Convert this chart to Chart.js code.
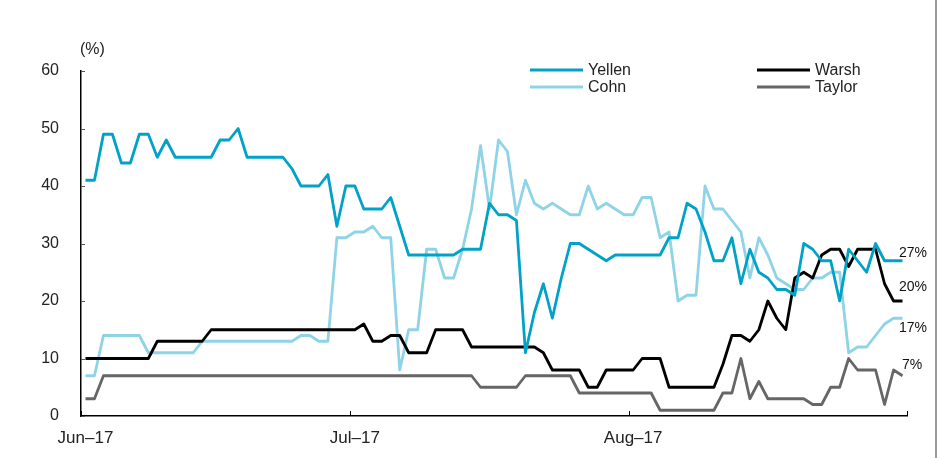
<!DOCTYPE html>
<html>
<head>
<meta charset="utf-8">
<script src="https://cdn.jsdelivr.net/npm/chart.js@4/dist/chart.umd.min.js"></script>
<style>
  html, body { margin: 0; padding: 0; background: #fff; }
  #wrap { width: 938px; height: 458px; position: relative; }
</style>
</head>
<body>
<div id="wrap"><canvas id="chart"></canvas></div>
<script>
// daily values, 1 Jun 2017 .. 31 Aug 2017 (%)
const monthStarts = [0, 30, 61];
const monthLabels = ["Jun\u201317", "Jul\u201317", "Aug\u201317"];
const dayCount = 92;

const yellen = [
  41, 41, 49, 49, 44, 44, 49, 49, 45, 48,
  45, 45, 45, 45, 45, 48, 48, 50, 45, 45,
  45, 45, 45, 43, 40, 40, 40, 42, 33, 40,
  40, 36, 36, 36, 38, 33, 28, 28, 28, 28,
  28, 28, 29, 29, 29, 37, 35, 35, 34, 11,
  18, 23, 17, 24, 30, 30, 29, 28, 27, 28,
  28, 28, 28, 28, 28, 31, 31, 37, 36, 32,
  27, 27, 31, 23, 29, 25, 24, 22, 22, 21,
  30, 29, 27, 27, 20, 29, 27, 25, 30, 27,
  27, 27,
];
const warsh = [
  10, 10, 10, 10, 10, 10, 10, 10, 13, 13,
  13, 13, 13, 13, 15, 15, 15, 15, 15, 15,
  15, 15, 15, 15, 15, 15, 15, 15, 15, 15,
  15, 16, 13, 13, 14, 14, 11, 11, 11, 15,
  15, 15, 15, 12, 12, 12, 12, 12, 12, 12,
  12, 11, 8, 8, 8, 8, 5, 5, 8, 8,
  8, 8, 10, 10, 10, 5, 5, 5, 5, 5,
  5, 9, 14, 14, 13, 15, 20, 17, 15, 24,
  25, 24, 28, 29, 29, 26, 29, 29, 29, 23,
  20, 20,
];
const cohn = [
  7, 7, 14, 14, 14, 14, 14, 11, 11, 11,
  11, 11, 11, 13, 13, 13, 13, 13, 13, 13,
  13, 13, 13, 13, 14, 14, 13, 13, 31, 31,
  32, 32, 33, 31, 31, 8, 15, 15, 29, 29,
  24, 24, 29, 36, 47, 36, 48, 46, 35, 41,
  37, 36, 37, 36, 35, 35, 40, 36, 37, 36,
  35, 35, 38, 38, 31, 32, 20, 21, 21, 40,
  36, 36, 34, 32, 24, 31, 28, 24, 23, 22,
  22, 24, 24, 25, 25, 11, 12, 12, 14, 16,
  17, 17,
];
const taylor = [
  3, 3, 7, 7, 7, 7, 7, 7, 7, 7,
  7, 7, 7, 7, 7, 7, 7, 7, 7, 7,
  7, 7, 7, 7, 7, 7, 7, 7, 7, 7,
  7, 7, 7, 7, 7, 7, 7, 7, 7, 7,
  7, 7, 7, 7, 5, 5, 5, 5, 5, 7,
  7, 7, 7, 7, 7, 4, 4, 4, 4, 4,
  4, 4, 4, 4, 1, 1, 1, 1, 1, 1,
  1, 4, 4, 10, 3, 6, 3, 3, 3, 3,
  3, 2, 2, 5, 5, 10, 8, 8, 8, 2,
  8, 7,
];
const yTicks = [0, 10, 20, 30, 40, 50, 60];

const FONT = "'Liberation Sans', Arial, sans-serif";
const TEXT = "#222";

// points sit in the middle of their day
const toPoints = arr => arr.map((v, i) => ({ x: i + 0.5, y: v }));

const series = [
  { label: "Yellen", data: yellen, color: "#00A2C8" },
  { label: "Warsh", data: warsh, color: "#000000" },
  { label: "Cohn", data: cohn, color: "#8ED4E6" },
  { label: "Taylor", data: taylor, color: "#666666" },
];

const extras = {
  id: "extras",
  afterDraw(chart) {
    const ctx = chart.ctx;
    const xs = chart.scales.x, ys = chart.scales.y;
    const area = chart.chartArea;
    ctx.save();

    // inward tick marks
    ctx.strokeStyle = "#000";
    ctx.lineWidth = 1;
    [...monthStarts, dayCount].forEach(d => {
      const px = Math.round(xs.getPixelForValue(d)) + 0.5;
      ctx.beginPath();
      ctx.moveTo(px, area.bottom);
      ctx.lineTo(px, area.bottom - 5);
      ctx.stroke();
    });
    ctx.strokeStyle = "#555";
    yTicks.forEach(v => {
      const py = Math.round(ys.getPixelForValue(v)) + 0.5;
      ctx.beginPath();
      ctx.moveTo(area.left, py);
      ctx.lineTo(area.left + 4, py);
      ctx.stroke();
    });

    // unit label
    ctx.fillStyle = TEXT;
    ctx.font = "16px " + FONT;
    ctx.textBaseline = "middle";
    ctx.textAlign = "left";
    ctx.fillText("(%)", 80, 50);

    // legend, two columns
    const cols = [[530, 0], [757, 1]];
    const rows = [70, 87];
    const order = [["Yellen", "Cohn"], ["Warsh", "Taylor"]];
    cols.forEach(([x0, c]) => {
      order[c].forEach((name, r) => {
        const s = series.find(s => s.label === name);
        ctx.strokeStyle = s.color;
        ctx.lineWidth = 3;
        ctx.beginPath();
        ctx.moveTo(x0, rows[r]);
        ctx.lineTo(x0 + 53, rows[r]);
        ctx.stroke();
        ctx.fillStyle = TEXT;
        ctx.fillText(name, x0 + 58, rows[r] + 1);
      });
    });

    // end-of-line values
    ctx.font = "14px " + FONT;
    ctx.fillStyle = "#111";
    ctx.textAlign = "center";
    const endOffsets = { Yellen: -8, Warsh: -14, Cohn: 10, Taylor: -11 };
    series.forEach(s => {
      const last = s.data[s.data.length - 1];
      const px = xs.getPixelForValue(dayCount) + 3;
      const py = ys.getPixelForValue(last) + endOffsets[s.label];
      ctx.fillText(last + "%", px + (s.label === "Taylor" ? 2 : 3), py);
    });

    // frame line on the right
    ctx.strokeStyle = "#9a9a9a";
    ctx.lineWidth = 2;
    ctx.beginPath();
    ctx.moveTo(936, 0);
    ctx.lineTo(936, 458);
    ctx.stroke();

    ctx.restore();
  },
};

new Chart(document.getElementById("chart"), {
  type: "line",
  data: {
    datasets: series.map(s => ({
      label: s.label,
      data: toPoints(s.data),
      borderColor: s.color,
      borderWidth: 2.8,
      pointRadius: 0,
      tension: 0,
      borderJoinStyle: "round",
      fill: false,
    })),
  },
  options: {
    responsive: true,
    maintainAspectRatio: false,
    animation: false,
    layout: { padding: { top: 71, right: 31, bottom: 0, left: 0 } },
    plugins: { legend: { display: false }, tooltip: { enabled: false } },
    scales: {
      x: {
        type: "linear",
        min: 0,
        max: dayCount,
        grid: { display: false, drawTicks: false },
        border: { display: true, color: "#000", width: 1.5 },
        afterBuildTicks: scale => {
          scale.ticks = monthStarts.map(d => ({ value: d + 0.5 }));
        },
        afterFit: scale => { scale.height = 42; },
        ticks: {
          autoSkip: false,
          maxRotation: 0,
          padding: 12,
          color: TEXT,
          font: { family: FONT, size: 17 },
          callback: (v, i) => monthLabels[i],
        },
      },
      y: {
        min: 0,
        max: 60,
        grid: { display: false, drawTicks: false },
        border: { display: true, color: "#000", width: 1.5 },
        afterBuildTicks: scale => {
          scale.ticks = yTicks.map(v => ({ value: v }));
        },
        afterFit: scale => { scale.width = 81; },
        ticks: {
          padding: 22,
          color: TEXT,
          font: { family: FONT, size: 16 },
        },
      },
    },
  },
  plugins: [extras],
});
</script>
</body>
</html>
